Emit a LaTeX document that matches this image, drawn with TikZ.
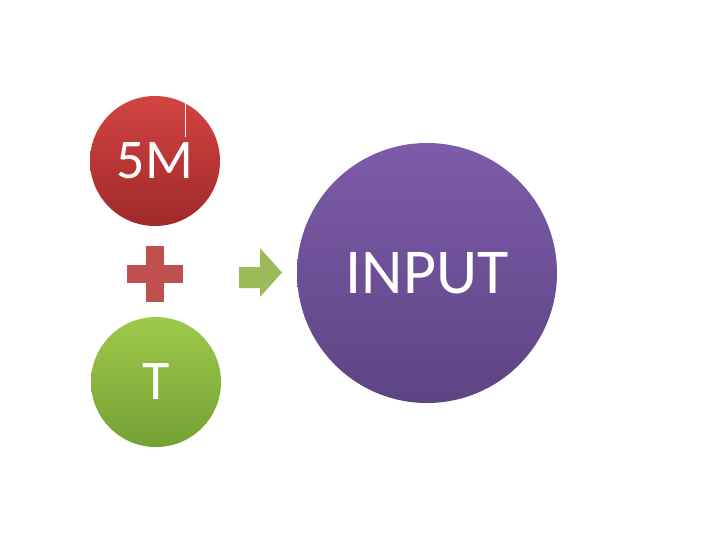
\documentclass[tikz,border=0pt]{standalone}
\usepackage{fontspec}
\setmainfont{Carlito}
\definecolor{redtop}{HTML}{D24442}
\definecolor{redbot}{HTML}{A0292A}
\definecolor{grntop}{HTML}{9DC94B}
\definecolor{grnbot}{HTML}{75A034}
\definecolor{purtop}{HTML}{7D5BA9}
\definecolor{purbot}{HTML}{5D4483}
\definecolor{plusred}{HTML}{C0504D}
\definecolor{arrgreen}{HTML}{9BBB59}
\tikzset{
  ball/.style={circle, inner sep=0pt, text=white},
}
\begin{document}
\begin{tikzpicture}[x=1pt,y=-1pt]
\useasboundingbox (0,0) rectangle (720,540);
\node[ball, minimum size=130pt, top color=redtop, bottom color=redbot,
  font=\fontsize{56}{56}\selectfont] (m5) at (155,161) {5M};
\node[ball, minimum size=130pt, top color=grntop, bottom color=grnbot,
  font=\fontsize{56}{56}\selectfont] (t) at (156,382) {T};
\node[ball, minimum size=260pt, top color=purtop, bottom color=purbot,
  font=\fontsize{64}{64}\selectfont] (inp) at (427,273) {INPUT};
% plus sign
\fill[plusred] (127,265) rectangle (183,283);
\fill[plusred] (145.5,246) rectangle (164,302);
% arrow
\fill[arrgreen] (239,267) -- (260,267) -- (260,248) -- (282,272.5) -- (260,297) -- (260,288) -- (239,288) -- cycle;
% thin line in red circle
\draw[white, line width=1pt] (185,103) -- (185,137);
\end{tikzpicture}
\end{document}
